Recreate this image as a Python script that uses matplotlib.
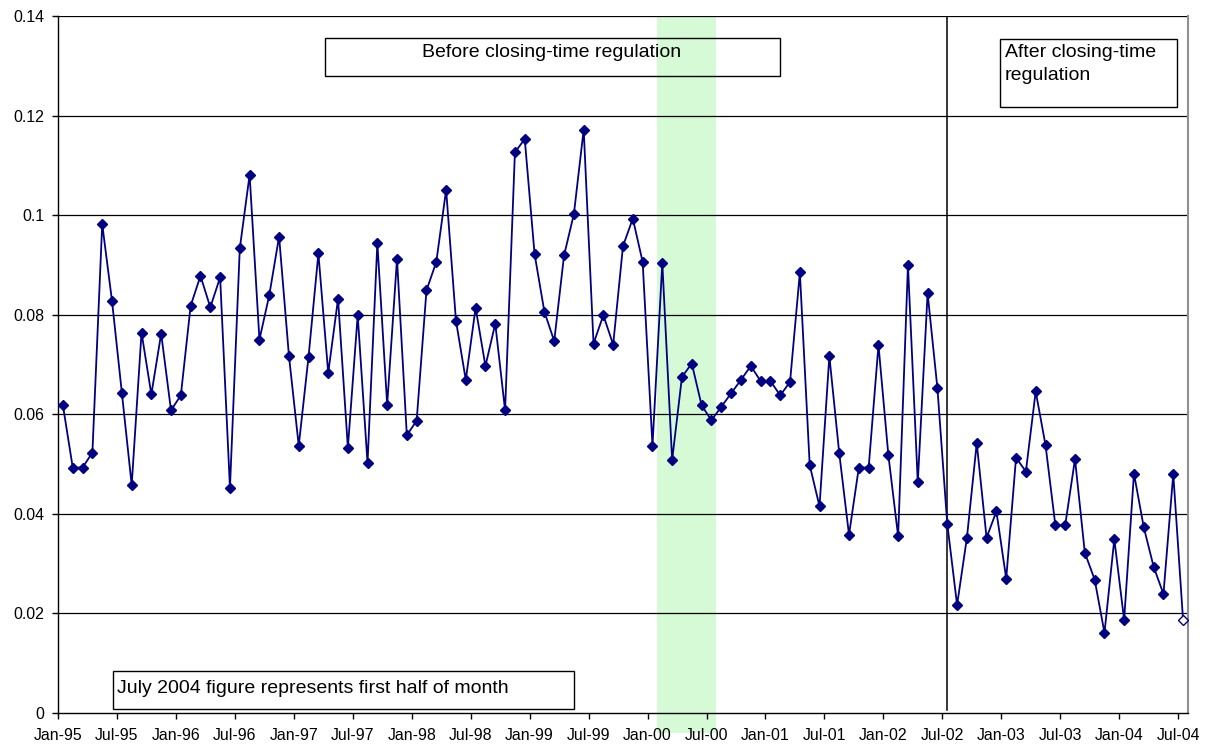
import numpy as np
import matplotlib
matplotlib.use("Agg")
import matplotlib.pyplot as plt
from matplotlib.patches import Rectangle

plt.rcParams["font.family"] = ["Liberation Sans", "DejaVu Sans"]

# monthly values, Jan-95 .. Jul-04 (last value = first half of July 2004)
values = [
    0.0618, 0.0493, 0.0493, 0.0523, 0.0982, 0.0827, 0.0643, 0.0458, 0.0764, 0.0640,
    0.0762, 0.0608, 0.0638, 0.0818, 0.0878, 0.0815, 0.0875, 0.0452, 0.0933, 0.1081,
    0.0750, 0.0839, 0.0957, 0.0718, 0.0537, 0.0716, 0.0923, 0.0683, 0.0832, 0.0533,
    0.0799, 0.0502, 0.0944, 0.0619, 0.0912, 0.0558, 0.0587, 0.0849, 0.0906, 0.1051,
    0.0788, 0.0669, 0.0814, 0.0697, 0.0782, 0.0608, 0.1126, 0.1153, 0.0922, 0.0806,
    0.0747, 0.0919, 0.1002, 0.1172, 0.0742, 0.0799, 0.0740, 0.0938, 0.0993, 0.0906,
    0.0537, 0.0904, 0.0508, 0.0675, 0.0702, 0.0618, 0.0588, 0.0615, 0.0642, 0.0669,
    0.0697, 0.0667, 0.0667, 0.0638, 0.0665, 0.0885, 0.0498, 0.0415, 0.0717, 0.0523,
    0.0358, 0.0493, 0.0493, 0.0739, 0.0519, 0.0355, 0.0900, 0.0463, 0.0843, 0.0652,
    0.0380, 0.0217, 0.0352, 0.0542, 0.0352, 0.0405, 0.0270, 0.0513, 0.0485, 0.0646,
    0.0538, 0.0377, 0.0377, 0.0510, 0.0322, 0.0268, 0.0161, 0.0349, 0.0187, 0.0481,
    0.0373, 0.0294, 0.0239, 0.0480, 0.0186,
]

tick_labels = [
    "Jan-95", "Jul-95", "Jan-96", "Jul-96", "Jan-97", "Jul-97", "Jan-98", "Jul-98",
    "Jan-99", "Jul-99", "Jan-00", "Jul-00", "Jan-01", "Jul-01", "Jan-02", "Jul-02",
    "Jan-03", "Jul-03", "Jan-04", "Jul-04",
]
y_ticks = [0, 0.02, 0.04, 0.06, 0.08, 0.1, 0.12, 0.14]
y_tick_labels = ["0", "0.02", "0.04", "0.06", "0.08", "0.1", "0.12", "0.14"]

band_start, band_end = 60.5, 66.5   # Feb-00 .. Jul-00
regulation_month = 90               # Jul-02

x = np.arange(len(values))

fig = plt.figure(figsize=(12.09, 7.46), dpi=100)
ax = fig.add_axes([58 / 1209, 1 - 713 / 746, 1130 / 1209, 697 / 746])

ax.axvspan(band_start, band_end, ymin=-0.028, ymax=1, color="#d5fad5",
           zorder=0, clip_on=False, lw=0)

for yt in y_ticks[1:]:
    ax.axhline(yt, color="black", lw=0.9, zorder=1)

ax.axvline(regulation_month, ymin=0.005, ymax=1, color="black", lw=1.1, zorder=2)

navy = "#000080"
ax.plot(x, values, color=navy, lw=1.3, zorder=3)
ax.plot(x[:-1], values[:-1], ls="none", marker="D", ms=5.5, color=navy,
        mec=navy, zorder=4)
ax.plot(x[-1:], values[-1:], ls="none", marker="D", ms=5.5, mfc="white",
        mec=navy, mew=1.0, zorder=4)

ax.set_xlim(-0.5, len(values) - 0.5)
ax.set_ylim(0, 0.14)
ax.set_xticks(np.arange(len(tick_labels)) * 6 - 0.5)
ax.set_xticklabels(tick_labels, fontsize=11.4)
ax.set_yticks(y_ticks)
ax.set_yticklabels(y_tick_labels, fontsize=11.4)
ax.tick_params(axis="x", direction="out", length=4, width=1, pad=7)
ax.tick_params(axis="y", direction="out", length=4.5, width=1, pad=5.5)

ax.spines["top"].set_visible(False)
ax.spines["right"].set_color("#909090")
ax.spines["right"].set_linewidth(1.5)
for s in ("left", "bottom"):
    ax.spines[s].set_color("black")
    ax.spines[s].set_linewidth(1)


def add_box(x0, y0, x1, y1):
    # pixel coords, top-left origin
    fig.patches.append(Rectangle((x0 / 1209, 1 - y1 / 746), (x1 - x0) / 1209,
                                 (y1 - y0) / 746, transform=fig.transFigure,
                                 fill=False, ec="black", lw=1, zorder=5))


add_box(325, 38, 780, 76)
fig.text(552 / 1209, 1 - 57 / 746, "Before closing-time regulation",
         ha="center", va="baseline", fontsize=14)

add_box(1000, 39, 1177, 107)
fig.text(1005 / 1209, 1 - 57 / 746, "After closing-time",
         ha="left", va="baseline", fontsize=14)
fig.text(1005 / 1209, 1 - 80 / 746, "regulation",
         ha="left", va="baseline", fontsize=14)

add_box(113, 671, 574, 709)
fig.text(117 / 1209, 1 - 693 / 746, "July 2004 figure represents first half of month",
         ha="left", va="baseline", fontsize=14)

fig.savefig("out.png", dpi=100)
